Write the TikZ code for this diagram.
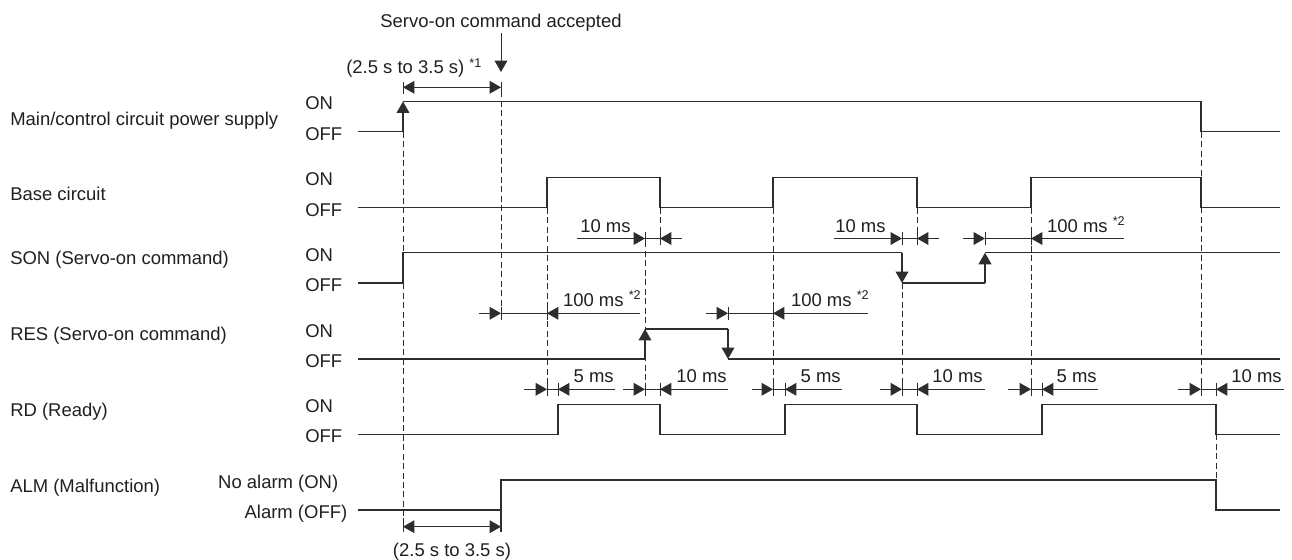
\documentclass[tikz,border=0pt]{standalone}
\usepackage{fontspec}
\setmainfont{Liberation Sans}
\usetikzlibrary{arrows.meta}
\definecolor{ink}{RGB}{35,31,32}
\definecolor{wire}{RGB}{45,45,45}
\newcommand\supx[1]{\raisebox{4.8pt}{\fontsize{9.5}{10}\selectfont #1}}
\begin{document}
\begin{tikzpicture}[x=0.75pt,y=-0.75pt,
  font=\fontsize{13.85}{16}\selectfont,
  every node/.style={inner sep=0pt, text=ink},
  sig/.style={line width=1pt, draw=wire},
  dimline/.style={line width=0.75pt, draw=wire},
  guide/.style={line width=0.75pt, draw=wire, dash pattern=on 4.5pt off 2.6pt},
  tipped/.style={-{Triangle[length=8.6pt,width=9.6pt]}},
  bothtip/.style={{Triangle[length=8.6pt,width=9.6pt]}-{Triangle[length=8.6pt,width=9.6pt]}}]
\fill[white] (0,0) rectangle (1292,560);
\useasboundingbox (0,0) rectangle (1292,560);

% ---- signal names
\node[anchor=base west] (nMain) at (10,125.5) {Main/control circuit power supply};
\node[anchor=base west] (nBase) at (10,200) {Base circuit};
\node[anchor=base west] (nSON) at (10,264.5) {SON (Servo-on command)};
\node[anchor=base west] (nRES) at (10,340) {RES (Servo-on command)};
\node[anchor=base west] (nRD) at (10,416) {RD (Ready)};
\node[anchor=base west] (nALM) at (10,492) {ALM (Malfunction)};

% ---- ON / OFF labels
\node[anchor=base west] (on1) at (305,109.8) {ON};
\node[anchor=base west] (off1) at (305,140) {OFF};
\node[anchor=base west] (on2) at (305,185.6) {ON};
\node[anchor=base west] (off2) at (305,216) {OFF};
\node[anchor=base west] (on3) at (305,261.1) {ON};
\node[anchor=base west] (off3) at (305,291.3) {OFF};
\node[anchor=base west] (on4) at (305,337.3) {ON};
\node[anchor=base west] (off4) at (305,367.3) {OFF};
\node[anchor=base west] (on5) at (305,412.6) {ON};
\node[anchor=base west] (off5) at (305,442.6) {OFF};
\node[anchor=base east] (on6) at (338.5,488.3) {No alarm (ON)};
\node[anchor=base east] (off6) at (347.5,518.3) {Alarm (OFF)};

% ---- dashed guides
\draw[guide] (403,131.7) -- (403,532);
\draw[guide] (501,82) -- (501,320);
\draw[guide] (547,207.7) -- (547,396);
\draw[guide] (645,232) -- (645,396);
\draw[guide] (660,207.7) -- (660,245);
\draw[guide] (773,207.7) -- (773,396);
\draw[guide] (902,283) -- (902,396);
\draw[guide] (917,207.7) -- (917,245);
\draw[guide] (1031,207.7) -- (1031,396);
\draw[guide] (1201,131.7) -- (1201,396);
\draw[guide] (1216,434.3) -- (1216,480);

% ---- waveforms
% Main/control circuit power supply
\draw[sig] (358,131.7) -- (403,131.7);
\draw[sig,tipped] (403,131.7) -- (403,101.5);
\draw[sig] (403,101.5) -- (1201,101.5) -- (1201,131.7) -- (1280,131.7);
% Base circuit
\draw[sig] (358,207.7) -- (547,207.7) -- (547,177.3) -- (660,177.3) -- (660,207.7)
  -- (773,207.7) -- (773,177.3) -- (917,177.3) -- (917,207.7)
  -- (1031,207.7) -- (1031,177.3) -- (1201,177.3) -- (1201,207.7) -- (1280,207.7);
% SON
\draw[sig] (358,283) -- (403,283) -- (403,252.8) -- (902,252.8);
\draw[sig,tipped] (902,252.8) -- (902,283);
\draw[sig] (902,283) -- (985,283);
\draw[sig,tipped] (985,283) -- (985,252.8);
\draw[sig] (985,252.8) -- (1280,252.8);
% RES
\draw[sig] (358,359) -- (645,359);
\draw[sig,tipped] (645,359) -- (645,329);
\draw[sig] (645,329) -- (728,329);
\draw[sig,tipped] (728,329) -- (728,359);
\draw[sig] (728,359) -- (1280,359);
% RD
\draw[sig] (358,434.3) -- (558,434.3) -- (558,404.3) -- (660,404.3) -- (660,434.3)
  -- (785,434.3) -- (785,404.3) -- (917,404.3) -- (917,434.3)
  -- (1042,434.3) -- (1042,404.3) -- (1216,404.3) -- (1216,434.3) -- (1280,434.3);
% ALM
\draw[sig] (358,510) -- (501,510) -- (501,480) -- (1216,480) -- (1216,510) -- (1280,510);

% ---- inward dimension arrows  ->| |<-
\foreach \yy/\a/\b/\c/\d in {238.5/577/645/660/682, 238.5/834/902/917/939, 238.5/963/985/1031/1124,
  313.3/479/501/547/640, 313.3/706/728/773/868,
  389.3/524/547/558/615, 389.3/623/645/660/728, 389.3/752/773/785/842,
  389.3/880/902/917/985, 389.3/1008/1031/1042/1098, 389.3/1178/1201/1216/1284}{
  \draw[dimline,tipped] (\a,\yy) -- (\b,\yy);
  \draw[dimline,tipped] (\d,\yy) -- (\c,\yy);
  \draw[dimline] (\b,\yy) -- (\c,\yy);
  \draw[dimline] (\b,\yy-6.6) -- (\b,\yy+6.6);
  \draw[dimline] (\c,\yy-6.6) -- (\c,\yy+6.6);
}

% ---- dimension labels
\node[anchor=base west] (t1) at (580,232) {10 ms};
\node[anchor=base west] (t2) at (835,232) {10 ms};
\node[anchor=base east] (t3) at (1125,232) {100 ms \supx{*2}};
\node[anchor=base east] (t4) at (641,306) {100 ms \supx{*2}};
\node[anchor=base east] (t5) at (869,306) {100 ms \supx{*2}};
\node[anchor=base east] (t6) at (614,382) {5 ms};
\node[anchor=base east] (t7) at (727,382) {10 ms};
\node[anchor=base east] (t8) at (841,382) {5 ms};
\node[anchor=base east] (t9) at (983,382) {10 ms};
\node[anchor=base east] (t10) at (1097,382) {5 ms};
\node[anchor=base east] (t11) at (1282,382) {10 ms};

% ---- top: servo-on command accepted
\node[anchor=base] (acc) at (501,27.3) {Servo-on command accepted};
\coordinate (accTip) at (501,72);
\draw[dimline,tipped] (acc.south |- 0,33) -- (accTip);
\node[anchor=base west] (topint) at (346,74) {(2.5 s to 3.5 s) \supx{*1}};
\draw[dimline] (403,81.7) -- (403,94);
\draw[dimline] (501,81.7) -- (501,94);
\draw[dimline,bothtip] (403,87.3) -- (501,87.3);

% ---- bottom interval
\draw[dimline] (403,518) -- (403,532);
\draw[sig] (501,510) -- (501,532);
\draw[dimline,bothtip] (403,526.7) -- (501,526.7);
\node[anchor=base] (botint) at (452,556) {(2.5 s to 3.5 s)};
\end{tikzpicture}
\end{document}
